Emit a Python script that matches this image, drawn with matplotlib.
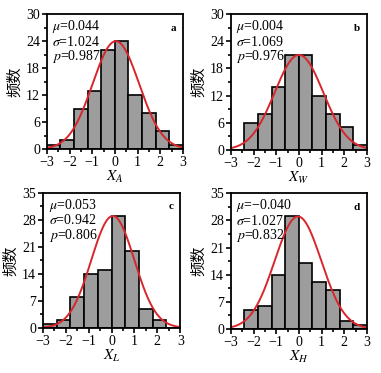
import numpy as np
import matplotlib
matplotlib.use("Agg")
import matplotlib.pyplot as plt
from matplotlib.ticker import MultipleLocator

plt.rcParams['font.family'] = ['Liberation Serif', 'Noto Sans CJK SC']
plt.rcParams['mathtext.fontset'] = 'stix'

# ── 数据 ──────────────────────────────────────────────
bin_edges = [-3.0, -2.4, -1.8, -1.2, -0.6, 0.0, 0.6, 1.2, 1.8, 2.4, 3.0]

counts_a = [1, 2, 9, 13, 22, 24, 12, 8, 4, 1]
counts_b = [0, 6, 8, 14, 21, 21, 12, 8, 5, 1]
counts_c = [1, 2, 8, 14, 15, 29, 20, 5, 2, 0]
counts_d = [0, 5, 6, 14, 29, 17, 12, 10, 2, 1]

mus    = [0.044, 0.004, 0.053, -0.040]
sigmas = [1.024, 1.069, 0.942, 1.027]
pvals  = [0.987, 0.976, 0.806, 0.832]
peaks  = [24, 21, 29, 29]          # fitted curve height
letters = ['a', 'b', 'c', 'd']
xlabels = [r'$X_A$', r'$X_W$', r'$X_L$', r'$X_H$']
ymaxes  = [30, 30, 35, 35]
ysteps  = [6, 6, 7, 7]

panels = [counts_a, counts_b, counts_c, counts_d]
# axes rectangles (fig fraction)
rects = [
    [0.123, 0.600, 0.357, 0.362],
    [0.606, 0.598, 0.357, 0.364],
    [0.113, 0.121, 0.360, 0.362],
    [0.606, 0.118, 0.357, 0.364],
]

fig = plt.figure(figsize=(3.81, 3.73), dpi=100)
edges = np.array(bin_edges)
centers = (edges[:-1] + edges[1:]) / 2
width = edges[1] - edges[0]
xs = np.linspace(-3, 3, 300)

for k in range(4):
    ax = fig.add_axes(rects[k])
    ax.bar(centers, panels[k], width=width, color='#9d9d9d',
           edgecolor='black', linewidth=1.2)
    curve = peaks[k] * np.exp(-(xs - mus[k]) ** 2 / (2 * sigmas[k] ** 2))
    ax.plot(xs, curve, color='#d8262c', lw=1.4)

    ax.set_xlim(-3, 3)
    ax.set_ylim(0, ymaxes[k])
    ax.xaxis.set_major_locator(MultipleLocator(1))
    ax.xaxis.set_minor_locator(MultipleLocator(0.5))
    ax.yaxis.set_major_locator(MultipleLocator(ysteps[k]))
    ax.yaxis.set_minor_locator(MultipleLocator(ysteps[k] / 2))
    ax.tick_params(which='major', direction='out', length=3.5, width=1.2,
                   labelsize=10, pad=1.5)
    ax.tick_params(which='minor', direction='out', length=2, width=1.2)
    ax.set_xticks([-3, -2, -1, 0, 1, 2, 3])
    ax.set_xticklabels(['\u22123', '\u22122', '\u22121', '0', '1', '2', '3'])
    for s in ax.spines.values():
        s.set_linewidth(1.3)

    ax.set_xlabel(xlabels[k], fontsize=11, labelpad=0)
    ax.set_ylabel('频数', fontsize=11, family=['Noto Sans CJK SC'], labelpad=2)

    txt = (r'$\mu$=%.3f' % mus[k]).replace('-', '\u2212') + '\n' + \
          r'$\sigma$=%.3f' % sigmas[k] + '\n' + r'$p$=%.3f' % pvals[k]
    ax.text(0.04, 0.97, txt, transform=ax.transAxes, ha='left', va='top',
            fontsize=10, linespacing=0.95)
    ax.text(0.95, 0.93, letters[k], transform=ax.transAxes, ha='right',
            va='top', fontsize=8, fontweight='bold')

fig.savefig('out.png', dpi=100)
